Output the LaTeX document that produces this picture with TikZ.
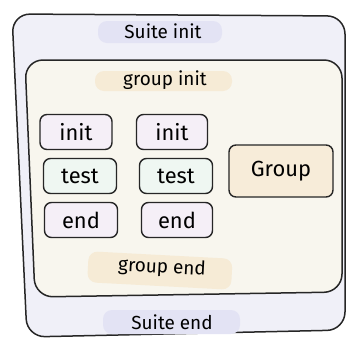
\documentclass[tikz,border=0pt]{standalone}
\usepackage{fontspec}
\setmainfont{Fira Sans}
\definecolor{outerfill}{RGB}{240,240,248}
\definecolor{innerfill}{RGB}{248,246,238}
\definecolor{hlblue}{RGB}{227,227,244}
\definecolor{hlcream}{RGB}{246,235,214}
\definecolor{lav}{RGB}{245,239,247}
\definecolor{mint}{RGB}{239,247,242}
\definecolor{groupfill}{RGB}{247,236,217}
\begin{document}
\begin{tikzpicture}[x=1bp,y=-1bp,
  frame/.style={draw=black!85,line width=1.5bp,rounded corners=18bp},
  hl/.style={rounded corners=9bp},
  lbl/.style={font=\fontsize{19}{21}\selectfont},
  cell/.style={draw=black!85,line width=1.4bp,rounded corners=7bp,minimum height=35bp,font=\fontsize{22}{24}\selectfont,inner sep=0pt}]
\useasboundingbox (0,0) rectangle (347,339);
% outer frame
\path[frame,fill=outerfill] (12,14) -- (345,16) -- (345,330) -- (27,337) -- cycle;
% inner frame
\path[frame,fill=innerfill] (25,60) -- (342,60) -- (342,292) -- (35,297) -- cycle;
% highlights
\fill[hl,hlblue] (98,21) rectangle (222,43);
\fill[hl,hlcream] (95,71) rectangle (232,91);
\fill[hl,hlcream,rotate around={-3:(160,268)}] (88,255) rectangle (232,286);
\fill[hl,hlblue] (103,310) rectangle (240,334);
% labels
\node[lbl] (si) at (163,31) {Suite init};
\node[lbl] (gi) at (165,80) {group init};
\node[lbl,rotate=-3] (ge) at (162,268) {group end};
\node[lbl] (se) at (172,322) {Suite end};
% cells
\node[cell,minimum width=72bp,fill=lav] (i1) at (76,132) {init};
\node[cell,minimum width=71bp,fill=lav] (i2) at (172,132) {init};
\node[cell,minimum width=73bp,fill=mint] (t1) at (80,176) {test};
\node[cell,minimum width=73bp,fill=mint] (t2) at (176,176) {test};
\node[cell,minimum width=73bp,fill=lav] (e1) at (81,220) {end};
\node[cell,minimum width=71bp,fill=lav] (e2) at (177,220) {end};
\node[cell,minimum width=104bp,minimum height=52bp,fill=groupfill] (g) at (281,171) {Group};
\end{tikzpicture}
\end{document}
